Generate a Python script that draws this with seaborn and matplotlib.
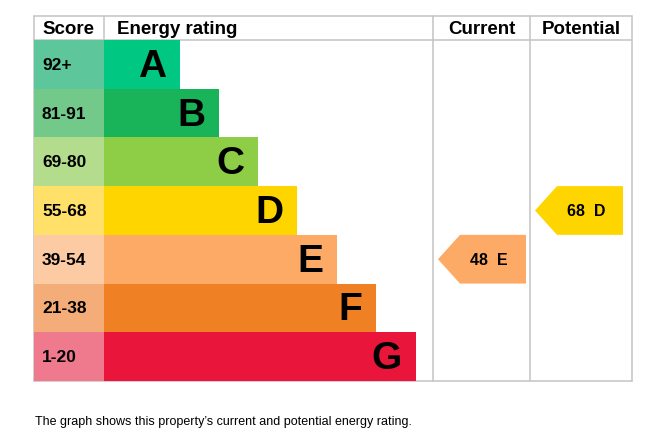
import matplotlib
matplotlib.use('Agg')
import matplotlib.pyplot as plt
from matplotlib.patches import Polygon
import seaborn as sns

# band data
bands = ['A', 'B', 'C', 'D', 'E', 'F', 'G']
score_ranges = ['92+', '81-91', '69-80', '55-68', '39-54', '21-38', '1-20']
bar_lengths = [76, 115, 154, 193, 233, 272, 312]
bar_colors = ['#00c781', '#19b459', '#8dce46', '#ffd500', '#fcaa65', '#ef8023', '#e9153b']
score_colors = ['#5ec69b', '#72c98a', '#b3dd8c', '#ffe16a', '#fccaa3', '#f4ac78', '#ef7a8e']

current_score = 48
current_band = 'E'
potential_score = 68
potential_band = 'D'

headers = ['Score', 'Energy rating', 'Current', 'Potential']
footer = "The graph shows this property\u2019s current and potential energy rating."

sns.set_style('white')
plt.rcParams['font.family'] = ['Liberation Sans', 'DejaVu Sans']
plt.rcParams['text.color'] = 'black'

W, H = 667, 439
fig = plt.figure(figsize=(W / 100, H / 100), dpi=100)

# table region in pixels
left, right, top, bottom = 34, 632, 17, 382
header_h = 24
row_h = (bottom - top - header_h) / len(bands)
score_w = 70
cur_x0, pot_x0 = 433 - left, 530 - left
tab_w = right - left

ax = fig.add_axes([left / W, 1 - bottom / H, tab_w / W, (bottom - top) / H])
hh = header_h / row_h

# energy bars (drawn from the table edge, score cells drawn on top)
sns.barplot(x=[score_w + b for b in bar_lengths], y=bands, hue=bands, palette=bar_colors,
            orient='h', width=1.0, saturation=1, linewidth=0, legend=False, ax=ax, zorder=2)
sns.barplot(x=[score_w] * len(bands), y=bands, hue=bands, palette=score_colors,
            orient='h', width=1.0, saturation=1, linewidth=0, legend=False, ax=ax, zorder=3)

ax.set_xlim(0, tab_w)
ax.set_ylim(len(bands) - 0.5, -0.5 - hh)
ax.axis('off')

# grid lines
lc = '#c3c3c3'
lw = 1.1
y_top = -0.5 - hh
y_bot = len(bands) - 0.5
ax.plot([0, tab_w], [y_top, y_top], color=lc, lw=lw, zorder=1, clip_on=False)
ax.plot([0, tab_w], [-0.5, -0.5], color=lc, lw=lw, zorder=1, clip_on=False)
ax.plot([0, tab_w], [y_bot, y_bot], color=lc, lw=lw, zorder=1, clip_on=False)
ax.plot([0, 0], [y_top, y_bot], color=lc, lw=lw, zorder=1, clip_on=False)
ax.plot([score_w, score_w], [y_top, -0.5], color=lc, lw=lw, zorder=1, clip_on=False)
for xv in [cur_x0, pot_x0, tab_w]:
    ax.plot([xv, xv], [y_top, y_bot], color=lc, lw=lw, zorder=1, clip_on=False)

# header texts
yh = -0.5 - hh / 2
ax.text(8, yh, headers[0], fontsize=13.5, fontweight='bold', va='center', ha='left')
ax.text(score_w + 13, yh, headers[1], fontsize=13.5, fontweight='bold', va='center', ha='left')
ax.text((cur_x0 + pot_x0) / 2, yh, headers[2], fontsize=13.5, fontweight='bold', va='center', ha='center')
ax.text((pot_x0 + tab_w) / 2, yh, headers[3], fontsize=13.5, fontweight='bold', va='center', ha='center')

# row labels
for i, (b, s, L) in enumerate(zip(bands, score_ranges, bar_lengths)):
    ax.text(8, i, s, fontsize=12.5, fontweight='bold', va='center', ha='left', zorder=4)
    ax.text(score_w + L - 14, i + 0.03, b, fontsize=28, fontweight='bold', va='center',
            ha='right', zorder=4)


def rating_arrow(x0, score, band):
    r = bands.index(band)
    tip = x0 + 5
    depth = 22
    end = tip + 88
    pts = [(tip, r), (tip + depth, r - 0.5), (end, r - 0.5), (end, r + 0.5), (tip + depth, r + 0.5)]
    ax.add_patch(Polygon(pts, closed=True, facecolor=bar_colors[r], edgecolor='none', zorder=4))
    ax.text(tip + depth + (end - tip - depth) / 2 - 4, r, f'{score}  {band}', fontsize=11.5,
            fontweight='bold', va='center', ha='center', zorder=5)


rating_arrow(cur_x0, current_score, current_band)
rating_arrow(pot_x0, potential_score, potential_band)

fig.text(35 / W, 1 - 422 / H, footer, fontsize=9, va='center', ha='left')

fig.savefig('out.png', dpi=100)
